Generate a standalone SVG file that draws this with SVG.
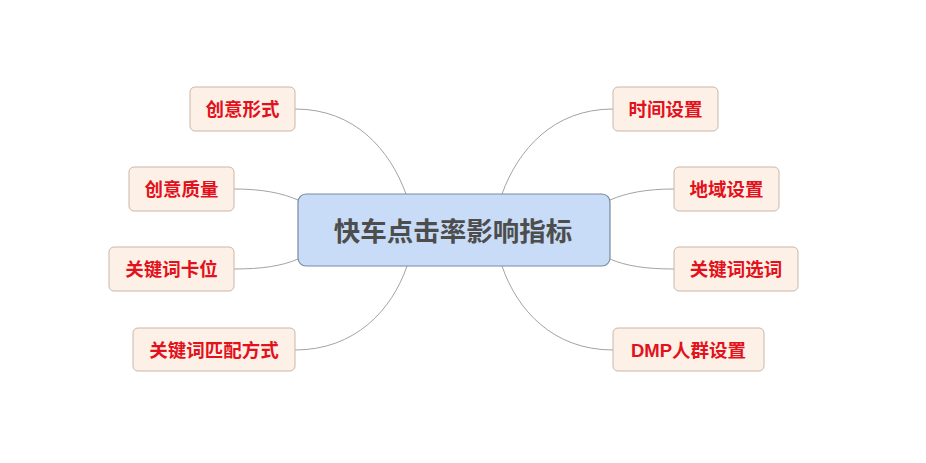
<svg xmlns="http://www.w3.org/2000/svg" width="926" height="463" viewBox="0 0 926 463">
<style>
.leaf{fill:#fdf0e7;stroke:#c9b7a8;stroke-width:1}
.leaft{font-family:"Liberation Sans","Noto Sans CJK SC",sans-serif;font-size:18.5px;font-weight:bold;fill:#e3111b;text-anchor:middle;dominant-baseline:central}
.root{fill:#c8dcf7;stroke:#7a8aa0;stroke-width:1.2}
.roott{font-family:"Liberation Sans","Noto Sans CJK SC",sans-serif;font-size:26.5px;font-weight:bold;fill:#4d4d4d;text-anchor:middle;dominant-baseline:central}
.conn path{fill:none;stroke:#a3a3a3;stroke-width:1}
</style>
<rect width="926" height="463" fill="#ffffff"/>
<g class="conn" id="connectors">
<path d="M295,109 C355,109 390,150 406,194"/>
<path d="M234,189 C262,189 282,193 298,200"/>
<path d="M234,269 C262,269 282,266 298,259"/>
<path d="M295,350 C355,350 392,310 407,266"/>
<path d="M613,109 C553,109 518,150 502,194"/>
<path d="M674,189 C646,189 626,193 610,200"/>
<path d="M674,269 C646,269 626,266 610,259"/>
<path d="M613,350 C553,350 517,310 502,266"/>
</g>
<g id="root"><rect class="root" x="298" y="194" width="312" height="72" rx="8"/><text class="roott" x="453" y="232">快车点击率影响指标</text></g>
<g id="n1"><rect class="leaf" x="190" y="87" width="105" height="44" rx="5"/><text class="leaft" x="242.5" y="109">创意形式</text></g>
<g id="n2"><rect class="leaf" x="129" y="167" width="105" height="44" rx="5"/><text class="leaft" x="181.5" y="189">创意质量</text></g>
<g id="n3"><rect class="leaf" x="109" y="247" width="125" height="44" rx="5"/><text class="leaft" x="171.5" y="269">关键词卡位</text></g>
<g id="n4"><rect class="leaf" x="133" y="328" width="162" height="43" rx="5"/><text class="leaft" x="214" y="350">关键词匹配方式</text></g>
<g id="n5"><rect class="leaf" x="613" y="87" width="105" height="44" rx="5"/><text class="leaft" x="665.5" y="109">时间设置</text></g>
<g id="n6"><rect class="leaf" x="674" y="167" width="105" height="44" rx="5"/><text class="leaft" x="726.5" y="189">地域设置</text></g>
<g id="n7"><rect class="leaf" x="674" y="247" width="124" height="44" rx="5"/><text class="leaft" x="736" y="269">关键词选词</text></g>
<g id="n8"><rect class="leaf" x="613" y="328" width="151" height="43" rx="5"/><text class="leaft" x="688.5" y="350">DMP人群设置</text></g>
</svg>
